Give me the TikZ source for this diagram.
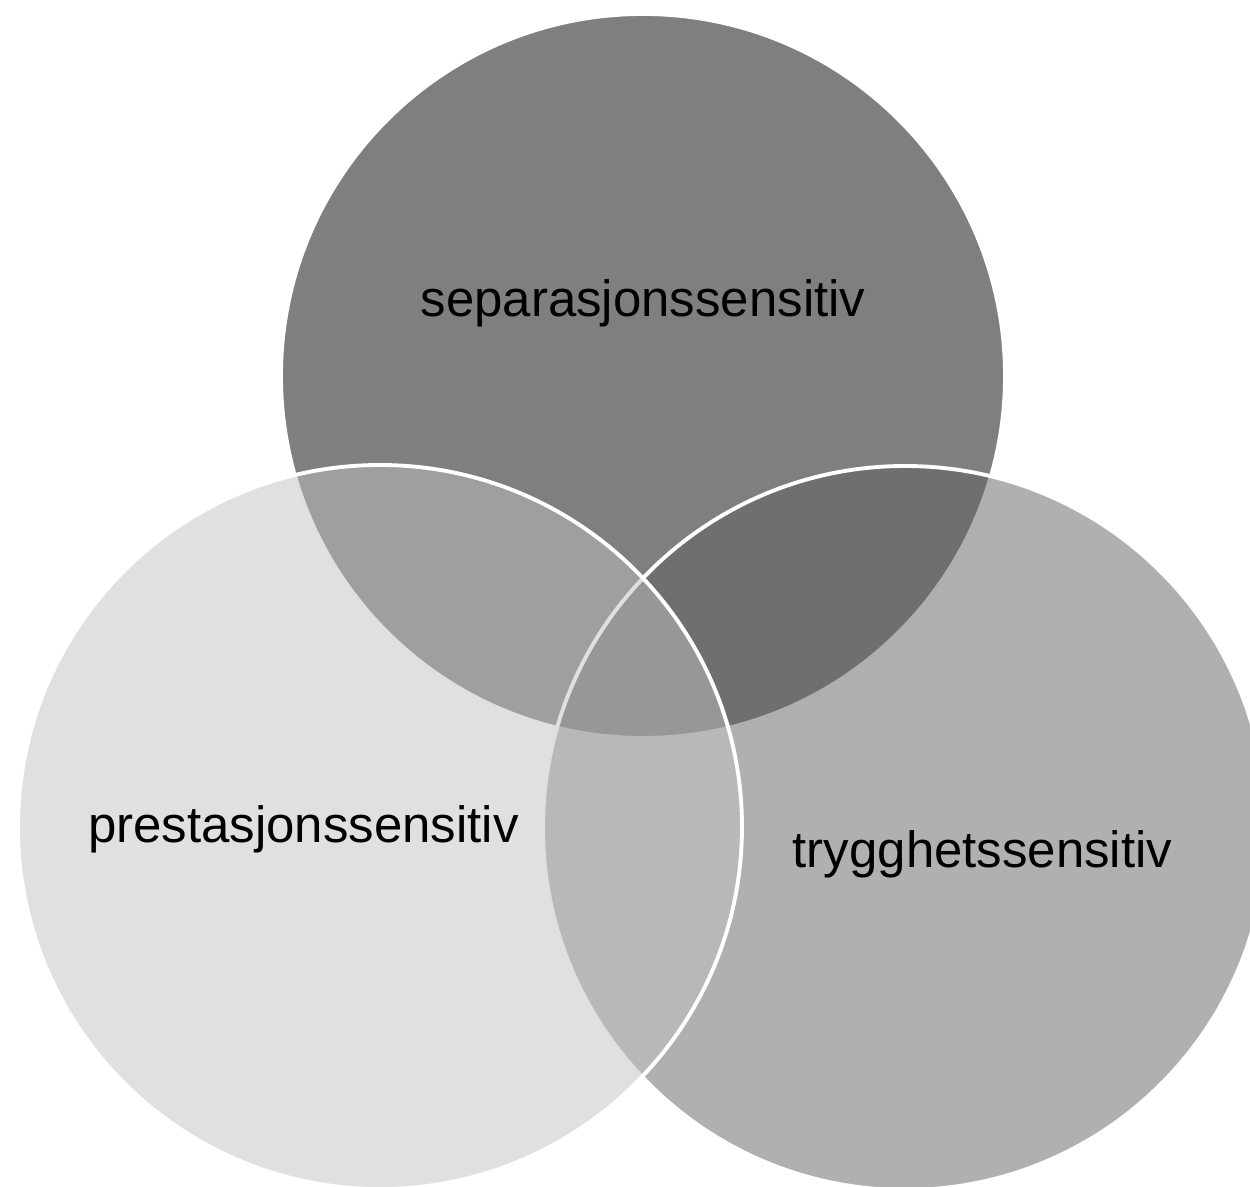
\documentclass[tikz,border=0pt]{standalone}
\usepackage{fontspec}
\setmainfont{Liberation Sans}
\usepackage{tikz}
\usetikzlibrary{backgrounds}
\definecolor{sepgray}{gray}{0}
\definecolor{trygray}{gray}{.38}
\definecolor{pregray}{gray}{.757}

\begin{document}
\begin{tikzpicture}[font=\fontsize{14.5}{17}\selectfont,
	ring/.style={draw=white, line width=1.1pt, fill opacity=.5},
	word/.style={anchor=base, inner sep=0pt, text=black}]
	\useasboundingbox (0,0) rectangle (12.5,11.87);
	% draw circles (top, right, left)
	\filldraw[ring, fill=sepgray] (6.43,8.11) circle (3.62);
	\filldraw[ring, fill=trygray] (9.05,3.59) circle (3.62);
	\filldraw[ring, fill=pregray] (3.80,3.60) circle (3.62);
	
	% draw labels
	\node[word] (sep) at (6.43,8.70) {separasjonssensitiv};
	\node[word] (pre) at (3.035,3.44) {prestasjonssensitiv};
	\node[word] (try) at (9.825,3.19) {trygghetssensitiv};
\end{tikzpicture}
\end{document}
